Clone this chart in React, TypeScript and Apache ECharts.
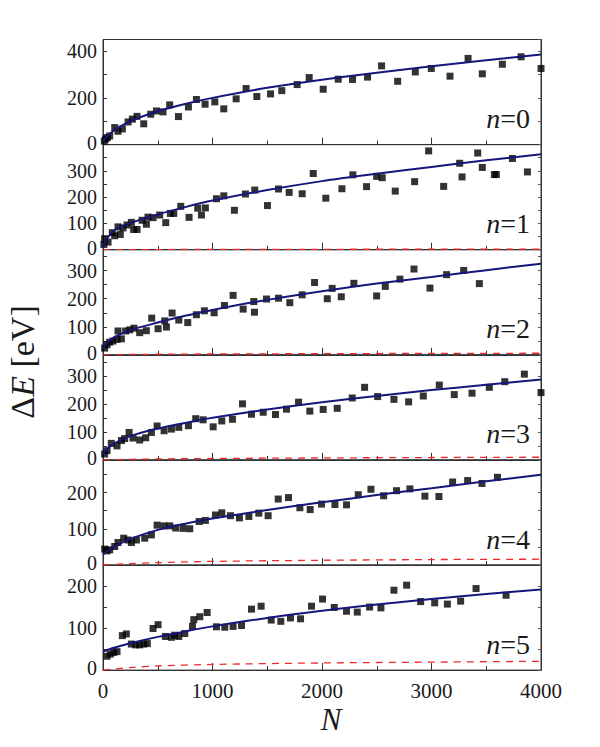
import React, { useEffect, useRef } from "react";
import * as echarts from "echarts";

// ---- panel settings ----
const panelLabels = ["0", "1", "2", "3", "4", "5"];
const yMax = [450, 400, 375, 375, 290, 250];
const yLabelStep = [200, 100, 100, 100, 100, 100];
const yTickStep = [100, 50, 50, 50, 50, 50];
const xMax = 4000;
const xStep = 1000;

// ---- data points (N, ΔE) ----
const pointsN0: [number, number][] = [
  [12, 15], [24, 24], [40, 30], [61, 37], [107, 73], [137, 57], [177, 67], [229, 97], [268, 109],
  [311, 121], [372, 89], [436, 130], [488, 144], [548, 140], [609, 170], [689, 120],
  [780, 161], [853, 193], [932, 173], [1021, 183], [1103, 153], [1216, 196], [1307, 240],
  [1405, 206], [1530, 217], [1633, 231], [1773, 257], [1883, 287], [2011, 237], [2148, 280],
  [2279, 279], [2416, 289], [2544, 337], [2691, 271], [2852, 311], [2998, 326], [3169, 293],
  [3334, 369], [3464, 303], [3647, 344], [3818, 376], [4000, 326],
];
const pointsN1: [number, number][] = [
  [8, 20], [15, 42], [46, 29], [85, 65], [107, 53], [137, 87], [158, 58], [183, 83], [219, 94],
  [259, 104], [280, 77], [311, 77], [357, 112], [396, 97], [411, 124], [457, 122],
  [518, 132], [573, 103], [615, 138], [646, 138], [710, 165], [786, 123], [865, 158],
  [899, 132], [935, 159], [1036, 194], [1103, 205], [1200, 150], [1301, 212], [1386, 227],
  [1502, 168], [1603, 231], [1700, 218], [1819, 213], [1920, 290], [2035, 196], [2182, 232],
  [2282, 285], [2407, 240], [2499, 279], [2550, 274], [2669, 223], [2846, 259], [2974, 376],
  [3111, 241], [3257, 329], [3279, 277], [3422, 368], [3464, 313], [3574, 286], [3592, 286],
  [3739, 347], [3876, 296],
];
const pointsN2: [number, number][] = [
  [15, 24], [37, 36], [61, 45], [91, 49], [128, 55], [137, 85], [168, 57], [207, 85],
  [244, 89], [283, 95], [335, 79], [396, 86], [445, 131], [503, 93], [564, 121], [579, 99],
  [631, 149], [692, 124], [774, 115], [853, 143], [926, 157], [1015, 150], [1109, 176],
  [1188, 212], [1280, 163], [1377, 190], [1383, 152], [1493, 199], [1603, 202], [1706, 186],
  [1819, 214], [1932, 258], [2048, 200], [2093, 237], [2176, 207], [2291, 255], [2499, 210],
  [2578, 244], [2712, 270], [2840, 306], [2986, 238], [3138, 286], [3294, 301], [3437, 254],
];
const pointsN3: [number, number][] = [
  [15, 21], [37, 33], [76, 59], [128, 50], [168, 69], [198, 76], [238, 98], [274, 78],
  [335, 71], [390, 79], [442, 98], [494, 121], [558, 104], [625, 110], [692, 116], [780, 122],
  [847, 147], [914, 143], [1006, 118], [1085, 139], [1182, 145], [1274, 200], [1356, 163],
  [1463, 170], [1575, 162], [1676, 181], [1786, 206], [1889, 174], [2011, 180], [2139, 184],
  [2276, 221], [2389, 259], [2508, 226], [2657, 216], [2791, 207], [2925, 228], [3071, 267],
  [3208, 233], [3370, 238], [3528, 259], [3669, 279], [3848, 306], [4000, 240],
];
const pointsN4: [number, number][] = [
  [15, 44], [37, 39], [61, 42], [107, 51], [137, 62], [189, 74], [229, 69], [259, 62],
  [305, 69], [381, 74], [442, 83], [494, 110], [555, 108], [609, 108], [664, 102], [731, 101],
  [792, 100], [878, 120], [935, 123], [1027, 138], [1085, 144], [1164, 136], [1246, 130],
  [1332, 134], [1423, 143], [1508, 136], [1600, 182], [1694, 186], [1798, 158], [1892, 153],
  [1996, 168], [2118, 167], [2224, 166], [2331, 194], [2447, 209], [2563, 191], [2681, 205],
  [2803, 210], [2940, 190], [3068, 189], [3193, 229], [3330, 233], [3461, 225], [3602, 242],
];
const pointsN5: [number, number][] = [
  [37, 33], [67, 38], [98, 42], [128, 44], [177, 82], [213, 86], [259, 62], [299, 60],
  [335, 60], [372, 62], [405, 63], [457, 99], [503, 108], [570, 80], [625, 78], [655, 83],
  [692, 80], [747, 87], [817, 104], [829, 120], [884, 127], [951, 137], [1036, 103],
  [1112, 102], [1188, 104], [1265, 106], [1356, 145], [1444, 152], [1536, 119], [1624, 116],
  [1712, 124], [1804, 122], [1904, 152], [2005, 169], [2112, 149], [2224, 140], [2322, 138],
  [2435, 150], [2538, 148], [2657, 190], [2773, 202], [2901, 163], [3029, 160], [3145, 157],
  [3266, 164], [3407, 194], [3681, 178],
];

// ---- fitted curves ----
const fitN0: [number, number][] = [
  [0, 11], [25, 30], [100, 60], [250, 100], [500, 143], [750, 174], [1000, 200], [1500, 243],
  [2000, 278], [2500, 308], [3000, 335], [3500, 361], [4000, 386],
];
const fitN1: [number, number][] = [
  [0, 6], [25, 34], [100, 72], [250, 102], [500, 134], [750, 162], [1000, 187], [1500, 227],
  [2000, 261], [2500, 289], [3000, 315], [3500, 340], [4000, 363],
];
const fitN2: [number, number][] = [
  [0, 21], [25, 38], [100, 62], [250, 88], [500, 115], [750, 139], [1000, 160], [1500, 196],
  [2000, 227], [2500, 254], [3000, 278], [3500, 302], [4000, 325],
];
const fitN3: [number, number][] = [
  [0, 20], [25, 34], [100, 58], [250, 85], [500, 112], [750, 132], [1000, 150], [1500, 180],
  [2000, 206], [2500, 228], [3000, 249], [3500, 268], [4000, 287],
];
const fitN4: [number, number][] = [
  [0, 28], [25, 35], [100, 50], [250, 72], [500, 97], [750, 114], [1000, 128], [1500, 152],
  [2000, 173], [2500, 193], [3000, 212], [3500, 231], [4000, 249],
];
const fitN5: [number, number][] = [
  [0, 44], [100, 53], [250, 64], [500, 79], [750, 92], [1000, 104], [1500, 124], [2000, 141],
  [2500, 156], [3000, 169], [3500, 181], [4000, 192],
];

// ---- model curves (red dashed) ----
const modelN1: [number, number][] = [[0, 0], [1000, 1], [2000, 1.5], [3000, 2], [4000, 2]];
const modelN2: [number, number][] = [[0, 0], [500, 2], [1000, 3], [2000, 4], [3000, 5], [4000, 5.5]];
const modelN3: [number, number][] = [[0, 0], [250, 2], [500, 3.5], [1000, 5], [2000, 7], [3000, 8.5], [4000, 9.5]];
const modelN4: [number, number][] = [[0, 0], [250, 4], [500, 6.5], [1000, 10], [2000, 13], [3000, 15], [4000, 16]];
const modelN5: [number, number][] = [[0, 0], [250, 6], [500, 10], [1000, 13.5], [2000, 17], [3000, 19], [4000, 21]];

const allPoints = [pointsN0, pointsN1, pointsN2, pointsN3, pointsN4, pointsN5];
const allFits = [fitN0, fitN1, fitN2, fitN3, fitN4, fitN5];
const allModels: ([number, number][] | null)[] = [null, modelN1, modelN2, modelN3, modelN4, modelN5];

// ---- layout ----
const GRID_LEFT = 103;
const GRID_W = 438;
const GRID_TOP = 39.5;
const GRID_H = 105.1;
const FONT = "Liberation Serif, Times New Roman, serif";
const INK = "#1a1a1a";

export default function App() {
  const ref = useRef<HTMLDivElement>(null);

  useEffect(() => {
    document.body.style.margin = "0";
    if (!ref.current) return;
    const chart = echarts.init(ref.current, undefined, { renderer: "svg" });

    const idx = panelLabels.map((_, i) => i);

    const grid = idx.map((i) => ({
      left: GRID_LEFT,
      width: GRID_W,
      top: GRID_TOP + i * GRID_H,
      height: GRID_H,
      show: true,
      borderColor: "#333",
      borderWidth: 1,
      backgroundColor: "transparent",
    }));

    const xAxis = idx.map((i) => ({
      gridIndex: i,
      type: "value",
      min: 0,
      max: xMax,
      interval: xStep,
      axisLine: { show: true, lineStyle: { color: "#333", width: 1 } },
      axisTick: { show: true, inside: true, length: 7, lineStyle: { color: "#333" } },
      minorTick: { show: true, splitNumber: 2, length: 4, lineStyle: { color: "#333" } },
      splitLine: { show: false },
      minorSplitLine: { show: false },
      axisLabel: {
        show: i === idx.length - 1,
        fontFamily: FONT,
        fontSize: 21,
        color: INK,
        margin: 10,
        formatter: (v: number) => String(v),
      },
    }));

    const yAxis: any[] = [];
    idx.forEach((i) => {
      yAxis.push({
        gridIndex: i,
        type: "value",
        position: "left",
        min: 0,
        max: yMax[i],
        interval: yTickStep[i],
        axisLine: { show: true, lineStyle: { color: "#333", width: 1 } },
        axisTick: { show: true, inside: true, length: 4, lineStyle: { color: "#333" } },
        splitLine: { show: false },
        axisLabel: {
          show: true,
          fontFamily: FONT,
          fontSize: 20,
          color: INK,
          margin: 6,
          formatter: (v: number) => {
            if (v === 0) return "{z|0}";
            return v % yLabelStep[i] === 0 && v < yMax[i] ? String(v) : "";
          },
          rich: {
            z: { fontFamily: FONT, fontSize: 20, color: INK, padding: [0, 0, 4, 0] },
          },
        },
      });
      yAxis.push({
        gridIndex: i,
        type: "value",
        position: "right",
        min: 0,
        max: yMax[i],
        interval: yTickStep[i],
        axisLine: { show: true, lineStyle: { color: "#333", width: 1 } },
        axisTick: { show: true, inside: true, length: 3, lineStyle: { color: "#555" } },
        splitLine: { show: false },
        axisLabel: { show: false },
      });
    });

    const series: any[] = [];
    idx.forEach((i) => {
      series.push({
        type: "scatter",
        xAxisIndex: i,
        yAxisIndex: 2 * i,
        data: allPoints[i],
        symbol: "rect",
        symbolSize: 7,
        itemStyle: { color: "#000" },
        z: 2,
      });
      const m = allModels[i];
      if (m) {
        series.push({
          type: "line",
          xAxisIndex: i,
          yAxisIndex: 2 * i,
          data: m,
          smooth: 0.3,
          showSymbol: false,
          symbol: "none",
          lineStyle: { color: "#ee2a2a", width: 1.3, type: [7, 6] },
          z: 2,
        });
      }
      series.push({
        type: "line",
        xAxisIndex: i,
        yAxisIndex: 2 * i,
        data: allFits[i],
        smooth: 0.3,
        showSymbol: false,
        symbol: "none",
        lineStyle: { color: "#16167c", width: 2 },
        z: 3,
      });
    });

    const graphic: any[] = idx.map((i) => ({
      type: "text",
      x: 530,
      y: GRID_TOP + (i + 1) * GRID_H - 26,
      z: 10,
      style: {
        text: `{i|n}{r|=${panelLabels[i]}}`,
        rich: {
          i: { fontStyle: "italic", fontFamily: FONT, fontSize: 28, fill: INK },
          r: { fontFamily: FONT, fontSize: 28, fill: INK },
        },
        fontFamily: FONT,
        fontSize: 28,
        fill: INK,
        align: "right",
        verticalAlign: "middle",
      },
    }));

    graphic.push({
      type: "text",
      x: 22,
      y: 362,
      rotation: Math.PI / 2,
      style: {
        text: "{r|Δ}{i|E}{r| [eV]}",
        rich: {
          i: { fontStyle: "italic", fontFamily: FONT, fontSize: 34, fill: INK },
          r: { fontFamily: FONT, fontSize: 34, fill: INK },
        },
        fontFamily: FONT,
        fontSize: 34,
        fill: INK,
        align: "center",
        verticalAlign: "middle",
      },
    });

    graphic.push({
      type: "text",
      x: 331,
      y: 719,
      style: {
        text: "N",
        fontStyle: "italic",
        fontFamily: FONT,
        fontSize: 31,
        fill: INK,
        align: "center",
        verticalAlign: "middle",
      },
    });

    chart.setOption({
      animation: false,
      backgroundColor: "#fff",
      grid,
      xAxis,
      yAxis,
      series,
      graphic,
    });

    return () => chart.dispose();
  }, []);

  return <div ref={ref} style={{ width: 600, height: 747 }} />;
}
